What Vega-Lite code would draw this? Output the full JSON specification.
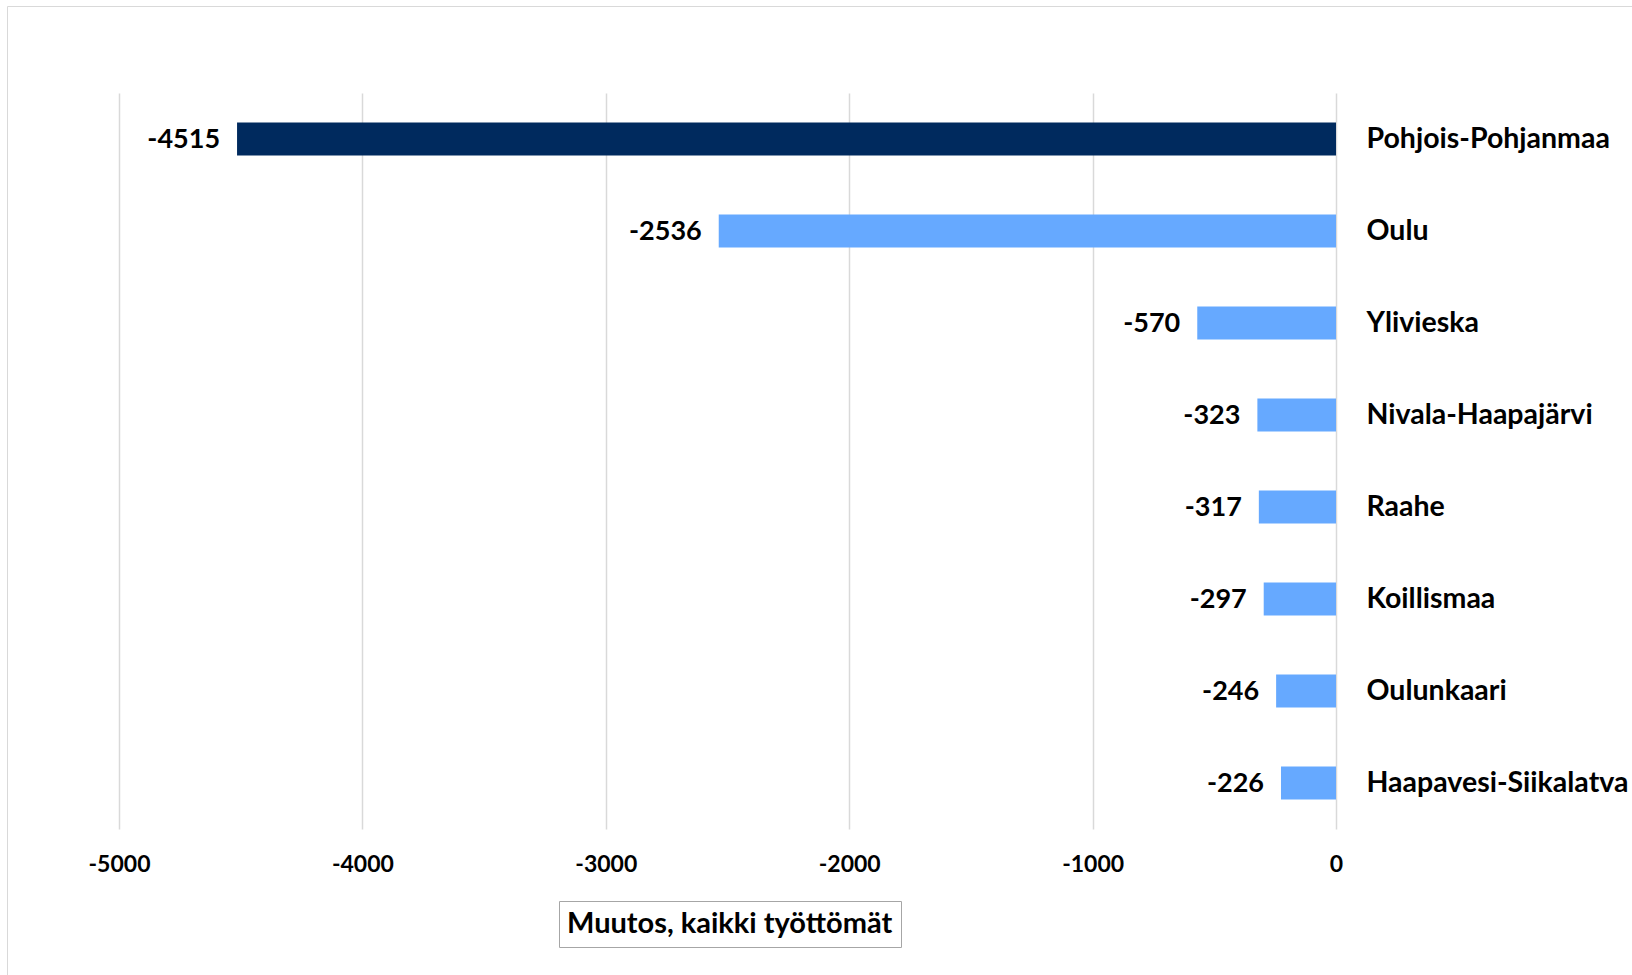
{
  "$schema": "https://vega.github.io/schema/vega-lite/v6.json",
  "autosize": {"type": "none"},
  "padding": {"left": 119, "top": 93, "right": 296, "bottom": 146},
  "width": 1217,
  "height": 736,
  "background": "white",
  "data": {
    "values": [
      {"alue": "Pohjois-Pohjanmaa", "muutos": -4515, "taso": "maakunta"},
      {"alue": "Oulu", "muutos": -2536, "taso": "seutukunta"},
      {"alue": "Ylivieska", "muutos": -570, "taso": "seutukunta"},
      {"alue": "Nivala-Haapajärvi", "muutos": -323, "taso": "seutukunta"},
      {"alue": "Raahe", "muutos": -317, "taso": "seutukunta"},
      {"alue": "Koillismaa", "muutos": -297, "taso": "seutukunta"},
      {"alue": "Oulunkaari", "muutos": -246, "taso": "seutukunta"},
      {"alue": "Haapavesi-Siikalatva", "muutos": -226, "taso": "seutukunta"}
    ]
  },
  "encoding": {
    "y": {
      "field": "alue",
      "type": "nominal",
      "sort": null,
      "scale": {"paddingInner": 0.64, "paddingOuter": 0.32},
      "axis": {
        "orient": "right",
        "title": null,
        "domain": false,
        "ticks": false,
        "grid": false,
        "labelPadding": 30,
        "labelFont": "Lato",
        "labelFontSize": 28.5,
        "labelFontWeight": "bold",
        "labelColor": "#000000",
        "labelAlign": "left",
        "labelLimit": 400
      }
    },
    "x": {
      "field": "muutos",
      "type": "quantitative",
      "scale": {"domain": [-5000, 0], "nice": false, "zero": false},
      "axis": {
        "title": null,
        "values": [-5000, -4000, -3000, -2000, -1000, 0],
        "labelExpr": "'' + datum.value",
        "labelFlush": false,
        "labelOverlap": false,
        "labelBound": false,
        "domain": false,
        "ticks": false,
        "grid": true,
        "gridColor": "#d9d9d9",
        "gridWidth": 1.5,
        "labelPadding": 24,
        "labelFont": "Lato",
        "labelFontSize": 23,
        "labelFontWeight": "bold",
        "labelColor": "#000000"
      }
    }
  },
  "layer": [
    {
      "mark": {"type": "bar"},
      "encoding": {
        "color": {
          "field": "taso",
          "type": "nominal",
          "scale": {"domain": ["maakunta", "seutukunta"], "range": ["#002A5E", "#66A9FF"]},
          "legend": null
        }
      }
    },
    {
      "mark": {"type": "text", "align": "right", "baseline": "middle", "dx": -17, "dy": 1, "font": "Lato", "fontSize": 27, "fontWeight": "bold", "color": "#000000"},
      "encoding": {
        "text": {"field": "muutos", "type": "nominal"}
      }
    },
    {
      "mark": {"type": "point", "opacity": 0},
      "encoding": {
        "shape": {
          "datum": "Muutos, kaikki työttömät",
          "type": "nominal",
          "legend": {
            "orient": "none",
            "legendX": 440,
            "legendY": 808,
            "title": null,
            "symbolSize": 0,
            "symbolOpacity": 0,
            "symbolStrokeWidth": 0,
            "labelOffset": -29,
            "padding": 8,
            "strokeColor": "#a6a6a6",
            "fillColor": "white",
            "labelFont": "Lato",
            "labelFontSize": 29,
            "labelFontWeight": "bold",
            "labelColor": "#000000",
            "labelLimit": 600
          }
        }
      }
    },
    {
      "mark": {"type": "point", "opacity": 0},
      "encoding": {
        "strokeDash": {
          "datum": " ",
          "type": "nominal",
          "legend": {
            "orient": "none",
            "legendX": -112,
            "legendY": -87,
            "title": null,
            "symbolOpacity": 0,
            "labelOpacity": 0,
            "padding": 1200,
            "strokeColor": "#d9d9d9",
            "encode": {"legend": {"update": {"strokeWidth": {"value": 2}}}}
          }
        }
      }
    }
  ],
  "config": {
    "view": {"stroke": null}
  }
}
